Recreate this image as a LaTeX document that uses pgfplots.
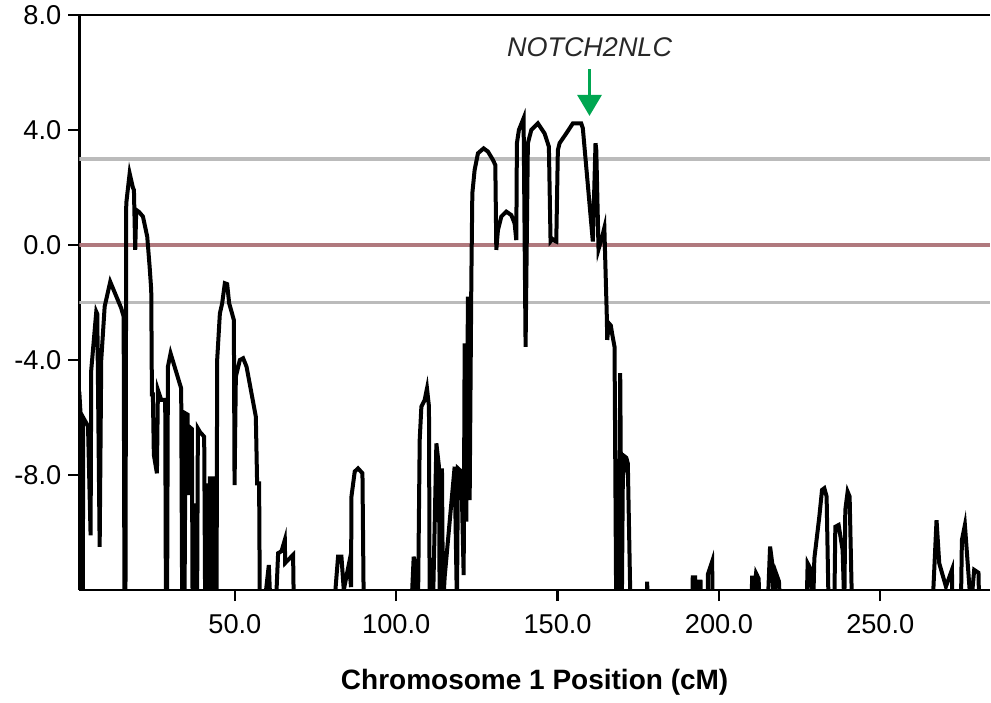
\documentclass[border=0pt]{standalone}
\usepackage{fontspec}
\setmainfont{Liberation Sans}
\usepackage{pgfplots}
\pgfplotsset{compat=1.18}
\usetikzlibrary{arrows.meta}
\definecolor{zeroline}{RGB}{176,121,126}
\definecolor{thrgray}{RGB}{187,187,187}
\definecolor{arrowgreen}{RGB}{0,166,81}
\definecolor{annot}{RGB}{40,40,40}
\begin{document}
\begin{tikzpicture}
\begin{axis}[
  at={(0,0)}, anchor=south west,
  scale only axis, width=455.35pt, height=287.5pt,
  xmin=1.8, xmax=284, ymin=-12, ymax=8,
  axis x line*=box, axis y line*=left,
  xtick pos=left, ytick pos=left,
  axis line style={line width=1.2pt, black},
  tick style={line width=1.1pt, black},
  tick align=outside, major tick length=5.5pt,
  xtick={50,100,150,200,250},
  xticklabels={50.0,100.0,150.0,200.0,250.0},
  ytick={-8,-4,0,4,8},
  yticklabels={-8.0,-4.0,0.0,4.0,8.0},
  ticklabel style={font=\fontsize{13.6}{15}\selectfont},
  xticklabel style={yshift=-3pt},
  xlabel={Chromosome 1 Position (cM)},
  xlabel style={font=\bfseries\fontsize{14}{16}\selectfont, at={(axis description cs:0.5,0)}, anchor=center, yshift=-46pt},
  clip=true,
]
\addplot[thrgray, line width=1.8pt, forget plot] coordinates {(1.8,3) (284,3)};
\addplot[thrgray, line width=1.8pt, forget plot] coordinates {(1.8,-2) (284,-2)};
\addplot[zeroline, line width=1.8pt, forget plot] coordinates {(1.8,0) (284,0)};
\addplot[black, line width=2pt] coordinates {
(1.8,-5.1)(2.2,-5.9)(2.5,-12.6)(2.9,-12.6)(3.0,-6.0)(4.5,-6.3)(5.3,-10.1)(5.5,-4.35)
(7.06,-2.32)(7.37,-2.4)(8.11,-10.5)(8.6,-4.0)(9.66,-2.14)(11.39,-1.28)(14.8,-2.2)
(15.54,-2.49)(15.8,-12.6)(16.1,-12.6)(16.35,1.45)(17.4,2.49)(18.4,2.0)(18.73,1.91)
(19.13,-0.17)(19.44,1.22)(20.3,1.15)(21.52,0.99)(22.85,0.29)(23.59,-0.75)(24.09,-1.57)
(24.3,-5.2)(24.6,-5.2)(24.9,-7.3)(25.85,-7.94)(26.16,-5.04)(27.18,-5.39)(28.42,-5.39)
(28.64,-12.6)(29.0,-12.6)(29.26,-4.23)(30.09,-3.77)(33.37,-4.99)(33.68,-12.6)(34.4,-12.6)
(34.74,-5.86)(35.35,-5.9)(35.54,-8.7)(35.85,-6.32)(36.69,-6.4)(36.9,-12.6)(37.31,-8.99)
(37.62,-12.6)(38.3,-12.6)(38.54,-6.38)(39.16,-6.5)(40.5,-6.67)(40.8,-12.6)(41.42,-8.29)
(41.73,-12.6)(42.0,-12.6)(42.26,-8.12)(43.1,-8.12)(43.28,-12.6)(44.33,-12.6)(44.52,-4.0)
(45.36,-2.38)(46.07,-2.03)(46.9,-1.33)(47.62,-1.36)(48.24,-2.03)(48.98,-2.32)(49.69,-2.61)
(49.91,-8.35)(50.31,-4.58)(51.55,-4.0)(52.57,-3.94)(53.62,-4.23)(56.5,-5.97)(56.9,-8.29)
(57.52,-8.29)(57.74,-12.6)(59.07,-12.6)(60.53,-11.13)(61.05,-12.6)(62.69,-12.6)
(63.41,-10.72)(64.46,-10.65)(65.48,-10.26)(65.6,-11.06)(68.05,-10.78)(68.27,-12.6)
(80.74,-12.6)(81.98,-10.84)(83.03,-10.84)(83.75,-12.0)(85.39,-11.07)(86.0,-11.9)
(86.13,-8.75)(87.15,-7.88)(88.17,-7.77)(89.54,-7.94)(89.94,-12.6)
(104.71,-12.6)(105.42,-10.84)(105.9,-11.3)(106.25,-12.6)(106.75,-12.6)(107.28,-6.78)
(107.8,-5.62)(108.82,-5.39)(109.54,-4.99)(110.15,-5.62)(110.37,-12.6)(111.39,-12.6)
(112.45,-6.9)(113.25,-7.71)(113.47,-12.6)(114.18,-7.77)(114.49,-12.6)(115.02,-11.54)
(118.11,-7.71)(118.82,-12.6)(119.13,-7.77)(120.19,-7.88)(120.9,-11.48)(121.21,-3.42)
(121.73,-9.62)(122.23,-1.8)(122.76,-8.87)(123.28,-1.22)(123.59,1.8)(124.3,2.61)
(125.33,3.19)(127.09,3.36)(128.42,3.25)(129.97,2.96)(130.71,2.78)(131.02,-0.17)
(131.52,0.52)(132.57,0.99)(134.12,1.16)(135.67,1.04)(136.69,0.75)(137.21,0.17)
(137.4,3.54)(138.02,4.0)(139.47,4.41)(140.09,-3.54)(140.8,3.54)(141.86,4.0)(143.9,4.23)
(145.98,3.88)(147.31,3.42)(147.83,0.12)(148.5,0.2)(149.0,0.15)(149.6,0.12)(150.09,3.3)
(150.62,3.54)(152.69,3.88)(154.74,4.23)(157.34,4.23)(157.83,4.06)(160.93,0.12)
(161.76,3.54)(162.0,3.3)(162.69,-0.15)(163.84,0.3)(164.5,0.6)(165.26,-2.49)(165.39,-3.3)
(165.88,-2.72)(166.5,-2.8)(166.93,-3.1)(167.65,-3.54)(168.17,-12.6)(168.98,-12.6)
(169.41,-4.46)(169.91,-12.6)(170.22,-8.17)(170.84,-7.36)(171.3,-7.4)(171.77,-7.6)
(172.6,-12.6)(177.6,-12.6)(177.77,-11.71)(177.9,-12.6)
(191.8,-12.6)(191.89,-11.56)(192.6,-11.56)(192.7,-12.6)(193.56,-11.71)(194.3,-11.71)
(194.5,-12.6)(196.53,-12.6)(196.6,-11.45)(197.89,-11.01)(198.08,-12.6)
(210.1,-12.6)(210.3,-11.5)(210.5,-12.6)(211.51,-11.42)(212.3,-11.6)(212.6,-12.6)
(215.11,-12.6)(215.85,-10.49)(216.66,-11.19)(216.9,-12.6)(217.71,-11.42)(218.6,-11.7)
(218.95,-12.6)(227.18,-12.6)(227.49,-11.07)(228.54,-11.3)(228.85,-12.6)(229.2,-12.6)
(229.57,-10.9)(231.11,-9.45)(231.95,-8.52)(232.66,-8.46)(233.37,-8.75)(233.99,-12.6)
(235.76,-12.6)(236.07,-9.8)(237.09,-9.74)(238.33,-10.61)(238.85,-12.6)(239.16,-9.22)
(239.88,-8.58)(240.5,-8.75)(241.24,-12.6)(266.19,-12.6)(267.43,-9.57)(268.27,-11.07)
(270.34,-11.88)(272.2,-11.3)(272.38,-12.6)(274.98,-12.6)(275.29,-10.26)(276.22,-9.74)
(278.08,-12.6)(279.1,-11.3)(280.43,-11.4)(280.65,-12.6)(284,-12.6)
};
\draw[arrowgreen, line width=1.6pt, -{Triangle[width=12pt,length=10.5pt]}] (axis cs:159.9,6.12) -- (axis cs:159.9,4.49);
\node[font=\itshape\fontsize{13.5}{16}\selectfont, text=annot, anchor=center] at (axis cs:159.9,6.89) {NOTCH2NLC};
\end{axis}
\pgfresetboundingbox
\path[use as bounding box] (-39.65pt,-56pt) rectangle (455.85pt,295pt);
\end{tikzpicture}
\end{document}
